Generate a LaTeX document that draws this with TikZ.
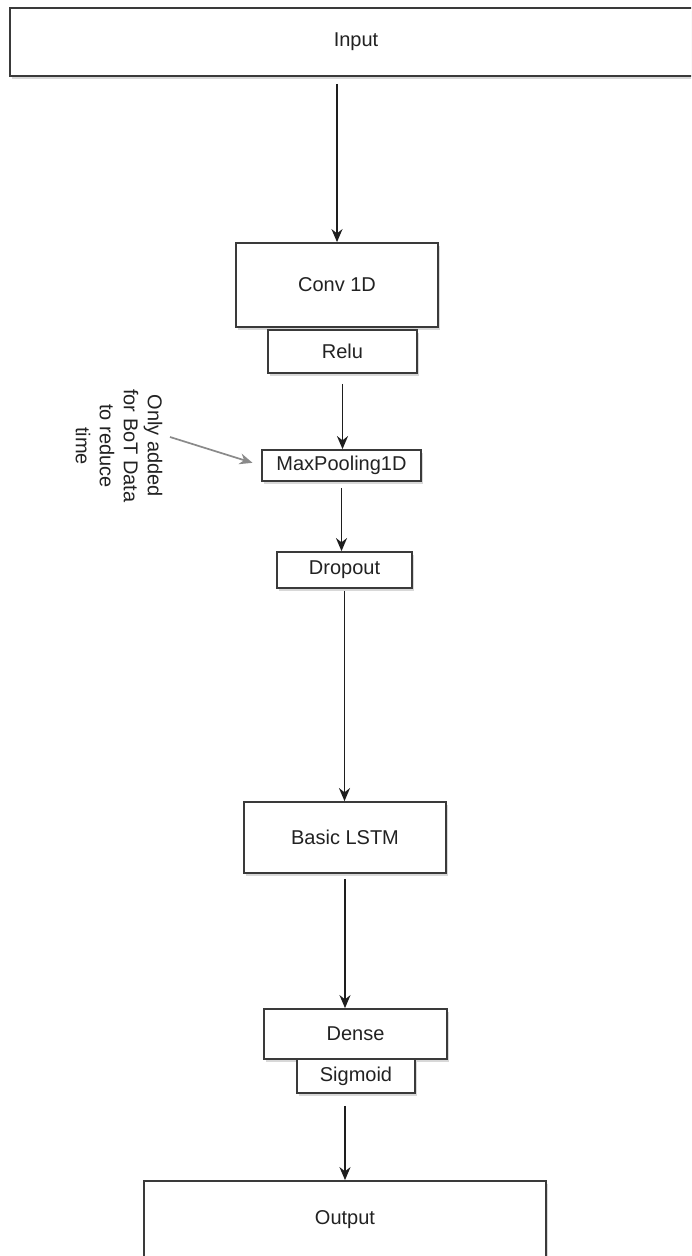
\documentclass[tikz,border=0pt]{standalone}
\usepackage{fontspec}
\setmainfont{Liberation Sans}
\usetikzlibrary{arrows.meta,shadows}
\definecolor{boxline}{HTML}{3A3A3A}
\definecolor{txt}{HTML}{222222}
\definecolor{arrline}{HTML}{1E1E1E}
\definecolor{notegray}{HTML}{8A8A8A}
\tikzset{
  layerbox/.style={draw=boxline, line width=1.8pt, fill=white, inner sep=0pt,
    text=txt, font=\fontsize{20}{23}\selectfont,
    drop shadow={shadow xshift=1.5pt, shadow yshift=-2.5pt, opacity=.3, fill=gray}},
  flow/.style={draw=arrline, line width=1.7pt, -{Stealth[length=13pt,width=11pt]}},
  noteflow/.style={draw=notegray, line width=1.7pt, -{Stealth[length=13pt,width=11pt]}},
  notetext/.style={rotate=-90, align=center, text=txt, inner sep=0pt,
    font=\fontsize{20}{24}\selectfont}
}
\begin{document}
\begin{tikzpicture}[x=1pt,y=-1pt]
\clip (0,0) rectangle (691,1256);
\fill[white] (0,0) rectangle (691,1256);

\node[layerbox, minimum width=692pt, minimum height=68pt] (input) at (356,42) {Input};
\node[layerbox, minimum width=202pt, minimum height=84pt] (conv) at (337,285) {Conv 1D};
\node[layerbox, minimum width=149pt, minimum height=43pt] (relu) at (342.5,351.5) {Relu};
\node[layerbox, minimum width=159pt, minimum height=31pt] (maxp) at (341.5,465.5) {MaxPooling1D};
\node[layerbox, minimum width=135pt, minimum height=36pt] (drop) at (344.5,570) {Dropout};
\node[layerbox, minimum width=202pt, minimum height=71pt] (lstm) at (345,837.5) {Basic LSTM};
\node[layerbox, minimum width=183pt, minimum height=50pt] (dense) at (355.5,1034) {Dense};
\node[layerbox, minimum width=118pt, minimum height=34pt] (sig) at (356,1076) {Sigmoid};
\node[layerbox, minimum width=402pt, minimum height=78pt] (out) at (345,1220) {Output};

\node[notetext] (note) at (119,446) {Only added\\for BoT Data\\to reduce\\time};
\coordinate (notestart) at (170,437);

\draw[flow, shorten <=7pt] (input.south -| conv.north) -- (conv.north);
\draw[flow, shorten <=10pt] (relu.south) -- (relu.south |- maxp.north);
\draw[flow, shorten <=6pt] (maxp.south) -- (maxp.south |- drop.north);
\draw[flow, shorten <=2pt] (drop.south) -- (drop.south |- lstm.north);
\draw[flow, shorten <=5pt] (lstm.south) -- (lstm.south |- dense.north);
\draw[flow, shorten <=12pt] (sig.south -| out.north) -- (out.north);
\draw[noteflow, shorten >=9pt] (notestart) -- (maxp.west);
\end{tikzpicture}
\end{document}
